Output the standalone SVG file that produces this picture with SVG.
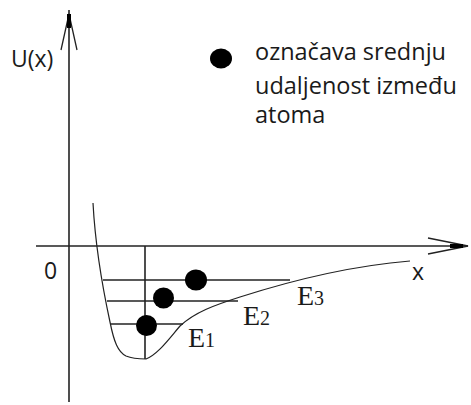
<svg xmlns="http://www.w3.org/2000/svg" width="471" height="405" viewBox="0 0 471 405">
<style>
.ax{stroke:#222;stroke-width:1.6;fill:none}
.ln{stroke:#222;stroke-width:1.3;fill:none}
.cv{stroke:#222;stroke-width:1.2;fill:none}
.t{font-family:"Open Sans","Noto Sans",sans-serif;font-size:23px;fill:#1a1a1a}
.lg{font-family:"Open Sans","Noto Sans",sans-serif;font-size:23.5px;fill:#1a1a1a}
.e{font-family:"Liberation Serif","Times New Roman",serif;font-size:28px;fill:#1a1a1a}
.s{font-size:20px}
.dot{fill:#000}
</style>
<rect width="471" height="405" fill="#fff"/>
<g id="connectors">
<line class="ax" x1="69" y1="10" x2="69" y2="402"/>
<polyline class="ln" points="61,50 69,14 77,50"/>
<line x1="69" y1="14" x2="69" y2="28" stroke="#000" stroke-width="4"/>
<line class="ax" x1="36" y1="246" x2="468" y2="246"/>
<polyline class="ln" points="428,238 468,246 428,254"/>
<line x1="450" y1="246" x2="463" y2="246" stroke="#000" stroke-width="4"/>
<line class="ax" x1="145" y1="246" x2="145" y2="359"/>
<path class="cv" d="M93,203 C95,240 102,285 110,322 C114,342 118,352 126,356 C133,359 140,359 146,359 C158,354 168,340 180,326 C195,312 215,305 240,297 C290,281 350,266 410,261"/>
<line class="ln" x1="103" y1="280" x2="290" y2="280"/>
<line class="ln" x1="107" y1="301" x2="238" y2="301"/>
<line class="ln" x1="111" y1="324" x2="183" y2="324"/>
</g>
<g id="dot3"><ellipse class="dot" cx="196" cy="280" rx="11" ry="10.5"/></g>
<g id="dot2"><ellipse class="dot" cx="163.5" cy="298" rx="10.5" ry="10.5"/></g>
<g id="dot1"><ellipse class="dot" cx="146.5" cy="325.5" rx="10.5" ry="10.5"/></g>
<g id="legend">
<ellipse class="dot" cx="221" cy="58.5" rx="11" ry="10"/>
<text class="lg" x="255" y="60">označava srednju</text>
<text class="lg" x="255" y="94">udaljenost između</text>
<text class="lg" x="255" y="123">atoma</text>
</g>
<g id="labels">
<text class="t" x="11" y="67">U(x)</text>
<text class="t" x="44" y="279">0</text>
<text class="t" x="412" y="280">x</text>
<text class="e" x="188" y="347">E<tspan class="s">1</tspan></text>
<text class="e" x="243" y="325">E<tspan class="s">2</tspan></text>
<text class="e" x="297" y="305">E<tspan class="s">3</tspan></text>
</g>
</svg>
